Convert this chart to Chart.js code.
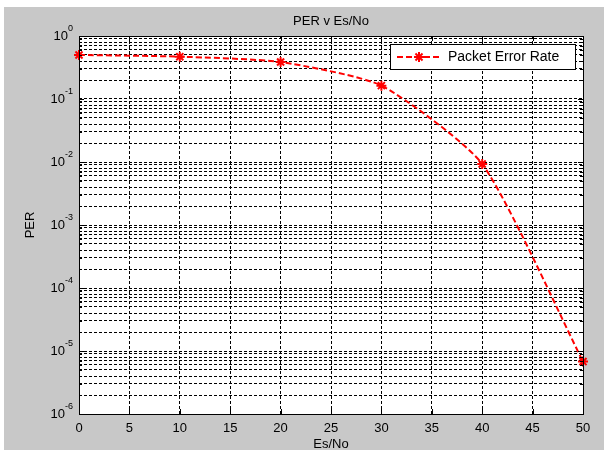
<!DOCTYPE html>
<html lang="en">
<head>
<meta charset="UTF-8">
<title>PER v Es/No</title>
<script src="https://cdn.jsdelivr.net/npm/chart.js"></script>
<style>
  html, body { margin: 0; padding: 0; background: #fff; }
  #wrap { width: 604px; height: 450px; }
</style>
</head>
<body>
<div id="wrap"><canvas id="perChart" width="604" height="450"></canvas></div>
<script>
// data
const esNo = [0, 10, 20, 30, 40, 50];
const per = [0.50, 0.47, 0.386, 0.163, 0.0093, 6.8e-6];
const seriesLabel = 'Packet Error Rate';
const xTicks = [0, 5, 10, 15, 20, 25, 30, 35, 40, 45, 50];
const decades = [-6, -5, -4, -3, -2, -1, 0];

const FONT = "'Liberation Sans', Arial, sans-serif";
const GRAY = '#c8c8c8';

// y ticks: 1..9 x 10^d for every decade
function logTicks() {
    const t = [];
    decades.forEach(d => {
        if (d === 0) { t.push({value: 1, major: true}); return; }
        for (let k = 1; k <= 9; k++) t.push({value: k * Math.pow(10, d), major: k === 1});
    });
    return t;
}

// figure background + white axes area
const backdrop = {
    id: 'backdrop',
    beforeDraw(chart) {
        const ctx = chart.ctx, a = chart.chartArea;
        ctx.save();
        ctx.fillStyle = '#fff';
        ctx.fillRect(0, 0, chart.width, chart.height);
        ctx.fillStyle = GRAY;
        ctx.fillRect(4, 7, chart.width - 4, chart.height - 7);
        ctx.fillStyle = '#fff';
        ctx.fillRect(a.left, a.top, a.right - a.left, a.bottom - a.top);
        ctx.restore();
    }
};

// box, inside tick marks, y labels with exponents, legend
const matlabAxes = {
    id: 'matlabAxes',
    afterDraw(chart) {
        const ctx = chart.ctx, a = chart.chartArea;
        const xs = chart.scales.x, ys = chart.scales.y;
        ctx.save();
        ctx.strokeStyle = '#000';
        ctx.lineWidth = 1;
        ctx.setLineDash([]);
        ctx.beginPath();
        xTicks.forEach(v => {
            const x = Math.round(xs.getPixelForValue(v)) + 0.5;
            ctx.moveTo(x, a.bottom); ctx.lineTo(x, a.bottom - 5);
            ctx.moveTo(x, a.top); ctx.lineTo(x, a.top + 5);
        });
        ys.ticks.forEach(t => {
            const y = Math.round(ys.getPixelForValue(t.value)) + 0.5;
            const len = t.major ? 5 : 3;
            ctx.moveTo(a.left, y); ctx.lineTo(a.left + len, y);
            ctx.moveTo(a.right, y); ctx.lineTo(a.right - len, y);
        });
        ctx.stroke();
        ctx.strokeRect(Math.round(a.left) + 0.5, Math.round(a.top) + 0.5,
            Math.round(a.right - a.left), Math.round(a.bottom - a.top));

        // y tick labels 10^d
        ctx.fillStyle = '#000';
        ctx.textBaseline = 'middle';
        decades.forEach(d => {
            const y = ys.getPixelForValue(Math.pow(10, d));
            const ex = d === 0 ? '0' : '-' + Math.abs(d);
            ctx.font = '9px ' + FONT;
            const ew = ctx.measureText(ex).width;
            ctx.textAlign = 'left';
            ctx.fillText(ex, 73 - ew, y - 7);
            ctx.font = '13px ' + FONT;
            ctx.textAlign = 'right';
            ctx.fillText('10', 73 - ew, y);
        });

        // legend
        const lx = 390.5, ly = 44.5, lw = 185, lh = 25;
        ctx.fillStyle = '#fff';
        ctx.fillRect(lx, ly, lw, lh);
        ctx.strokeRect(lx, ly, lw, lh);
        const ds = chart.data.datasets[0];
        const my = ly + lh / 2;
        ctx.strokeStyle = ds.borderColor;
        ctx.lineWidth = ds.borderWidth;
        ctx.setLineDash(ds.borderDash);
        ctx.beginPath();
        ctx.moveTo(397, my); ctx.lineTo(441, my);
        ctx.stroke();
        ctx.setLineDash([]);
        Chart.helpers.drawPoint(ctx, {
            pointStyle: ds.pointStyle, radius: ds.pointRadius,
            borderWidth: ds.pointBorderWidth, rotation: 0
        }, 419, my);
        ctx.fillStyle = '#000';
        ctx.font = '14px ' + FONT;
        ctx.textAlign = 'left';
        ctx.fillText(ds.label, 448, my);
        ctx.restore();
    }
};

const gridStyle = {
    color: '#000',
    lineWidth: 1,
    drawTicks: false
};
// in v4 the grid line dash lives under border.dash
const borderStyle = { display: false, dash: [3, 2] };

new Chart(document.getElementById('perChart'), {
    type: 'line',
    data: {
        datasets: [{
            label: seriesLabel,
            data: esNo.map((x, i) => ({x: x, y: per[i]})),
            borderColor: '#ff0000',
            backgroundColor: '#ff0000',
            borderWidth: 2,
            borderDash: [6, 3],
            pointStyle: 'star',
            pointRadius: 5,
            pointBorderWidth: 2,
            pointBorderColor: '#ff0000',
            pointBackgroundColor: '#ff0000',
            tension: 0.2,
            clip: false
        }]
    },
    options: {
        responsive: false,
        animation: false,
        devicePixelRatio: 1,
        layout: { padding: { left: 0, right: 21, top: 0, bottom: 0 } },
        scales: {
            x: {
                type: 'linear',
                min: 0,
                max: 50,
                afterBuildTicks: s => { s.ticks = xTicks.map(v => ({value: v})); },
                afterFit: s => { s.height = 36; },
                grid: gridStyle,
                border: borderStyle,
                ticks: {
                    color: '#000',
                    padding: 7,
                    maxRotation: 0,
                    font: { family: FONT, size: 13 }
                },
                title: {
                    display: true,
                    text: 'Es/No',
                    color: '#000',
                    padding: { top: 0, bottom: -2 },
                    font: { family: FONT, size: 13 }
                }
            },
            y: {
                type: 'logarithmic',
                min: 1e-6,
                max: 1,
                afterBuildTicks: s => { s.ticks = logTicks(); },
                afterFit: s => { s.width = 79; },
                grid: gridStyle,
                border: borderStyle,
                ticks: { display: false },
                title: {
                    display: true,
                    text: 'PER',
                    color: '#000',
                    padding: { top: 23, bottom: 0 },
                    font: { family: FONT, size: 13 }
                }
            }
        },
        plugins: {
            legend: { display: false },
            tooltip: { enabled: false },
            title: {
                display: true,
                text: 'PER v Es/No',
                color: '#000',
                fullSize: false,
                padding: { top: 14, bottom: 6.4 },
                font: { family: FONT, size: 13, weight: 'normal' }
            }
        }
    },
    plugins: [backdrop, matlabAxes]
});
</script>
</body>
</html>
